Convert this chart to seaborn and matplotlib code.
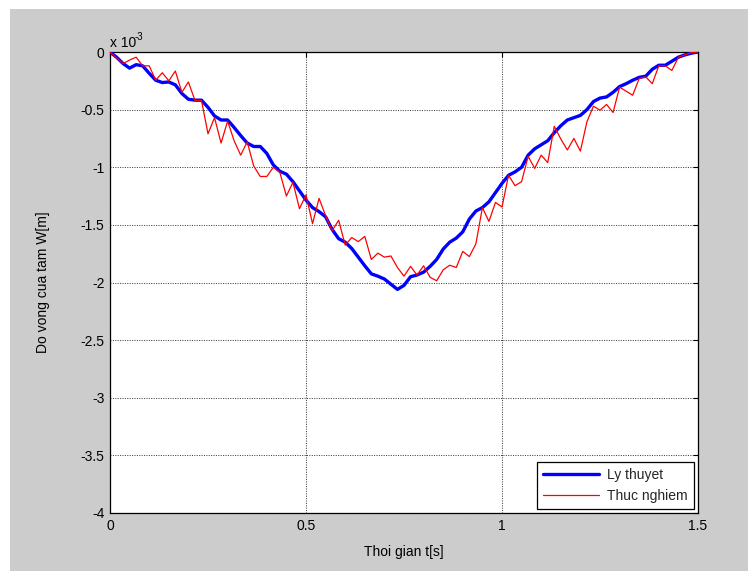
import numpy as np
import pandas as pd
import matplotlib
matplotlib.use("Agg")
import matplotlib.pyplot as plt
from matplotlib.patches import Rectangle
from matplotlib.ticker import FuncFormatter, FixedLocator
import seaborn as sns

# ---- data (deflection in units of 1e-3 m), sampled every 1/60 s from 0 to 1.5 s ----
t = np.linspace(0, 1.5, 91)

ly_thuyet = [
    0, -0.045, -0.10, -0.14, -0.11, -0.12, -0.185, -0.245, -0.265, -0.26,
    -0.285, -0.36, -0.41, -0.418, -0.418, -0.48, -0.555, -0.59, -0.59, -0.655,
    -0.725, -0.79, -0.82, -0.82, -0.88, -0.98, -1.035, -1.06, -1.125, -1.205,
    -1.285, -1.35, -1.385, -1.43, -1.54, -1.62, -1.65, -1.705, -1.78, -1.855,
    -1.925, -1.945, -1.97, -2.015, -2.06, -2.025, -1.95, -1.935, -1.91, -1.86,
    -1.80, -1.71, -1.65, -1.615, -1.56, -1.45, -1.38, -1.35, -1.30, -1.22,
    -1.14, -1.07, -1.04, -1.00, -0.895, -0.84, -0.805, -0.77, -0.70, -0.64,
    -0.59, -0.57, -0.55, -0.50, -0.43, -0.40, -0.39, -0.35, -0.30, -0.275,
    -0.245, -0.22, -0.21, -0.15, -0.115, -0.115, -0.08, -0.045, -0.025, -0.01,
    0,
]

thuc_nghiem = [
    0, -0.05, -0.10, -0.07, -0.045, -0.12, -0.12, -0.245, -0.18, -0.25,
    -0.165, -0.35, -0.26, -0.42, -0.42, -0.71, -0.57, -0.79, -0.60, -0.77,
    -0.895, -0.78, -0.99, -1.08, -1.08, -1.00, -1.045, -1.25, -1.13, -1.36,
    -1.24, -1.49, -1.27, -1.42, -1.55, -1.46, -1.675, -1.61, -1.645, -1.60,
    -1.80, -1.745, -1.78, -1.77, -1.87, -1.945, -1.86, -1.935, -1.855, -1.955,
    -1.985, -1.89, -1.85, -1.87, -1.73, -1.775, -1.665, -1.35, -1.47, -1.305,
    -1.345, -1.07, -1.16, -1.125, -0.905, -1.01, -0.895, -0.96, -0.645, -0.755,
    -0.85, -0.75, -0.86, -0.605, -0.47, -0.505, -0.455, -0.525, -0.305, -0.34,
    -0.375, -0.23, -0.215, -0.275, -0.12, -0.12, -0.16, -0.045, -0.025, -0.005,
    0,
]

series_names = ["Ly thuyet", "Thuc nghiem"]
x_ticks = [0, 0.5, 1, 1.5]
y_ticks = [0, -0.5, -1, -1.5, -2, -2.5, -3, -3.5, -4]

# ---- style ----
sns.set_theme(style="white")
plt.rcParams["font.family"] = ["Liberation Sans", "DejaVu Sans"]
plt.rcParams["axes.unicode_minus"] = False

W, H = 755, 571
fig = plt.figure(figsize=(W / 100, H / 100), dpi=100, facecolor="white")
# grey figure panel (MATLAB window background)
fig.patches.append(Rectangle((10 / W, 0), (748 - 10) / W, (H - 9) / H,
                             transform=fig.transFigure, facecolor="#cccccc",
                             edgecolor="none", zorder=-10))

ax = fig.add_axes([110 / W, 1 - 513 / H, (698 - 110) / W, (513 - 52) / H])
ax.set_facecolor("white")

df = pd.DataFrame({
    "t": np.concatenate([t, t]),
    "w": np.concatenate([ly_thuyet, thuc_nghiem]),
    "series": [series_names[0]] * len(t) + [series_names[1]] * len(t),
})

sns.lineplot(data=df[df.series == series_names[0]], x="t", y="w", ax=ax,
             color=(0, 0, 1), linewidth=2.4, label=series_names[0],
             sort=False, zorder=3)
sns.lineplot(data=df[df.series == series_names[1]], x="t", y="w", ax=ax,
             color=(1, 0, 0), linewidth=0.9, label=series_names[1],
             sort=False, zorder=4)

ax.set_xlim(0, 1.5)
ax.set_ylim(-4, 0)
ax.xaxis.set_major_locator(FixedLocator(x_ticks))
ax.yaxis.set_major_locator(FixedLocator(y_ticks))
fmt = FuncFormatter(lambda v, p: "%g" % v)
ax.xaxis.set_major_formatter(fmt)
ax.yaxis.set_major_formatter(fmt)

ax.grid(True, color="#444444", linestyle=(0, (1, 1.3)), linewidth=0.75)
ax.tick_params(direction="in", length=3.5, width=0.8, colors="black",
               labelsize=10, top=True, right=True, pad=4,
               labelcolor="black")
for s in ax.spines.values():
    s.set_color("black")
    s.set_linewidth(0.9)
    s.set_visible(True)

ax.set_xlabel("Thoi gian t[s]", fontsize=10, color="black", labelpad=9)
ax.set_ylabel("Do vong cua tam W[m]", fontsize=10, color="black", labelpad=22)

fig.text(110 / W, 1 - 47 / H, "x 10", fontsize=10, color="black",
         ha="left", va="baseline")
fig.text(135 / W, 1 - 40 / H, "-3", fontsize=7, color="black",
         ha="left", va="baseline")

leg = ax.legend(loc="lower right", frameon=True, fancybox=False,
                edgecolor="black", framealpha=1, fontsize=10,
                borderaxespad=0.3, handlelength=4.0, borderpad=0.45,
                labelspacing=0.45, handletextpad=0.6)
leg.get_frame().set_linewidth(0.9)

fig.savefig("out.png", dpi=100, facecolor=fig.get_facecolor())
